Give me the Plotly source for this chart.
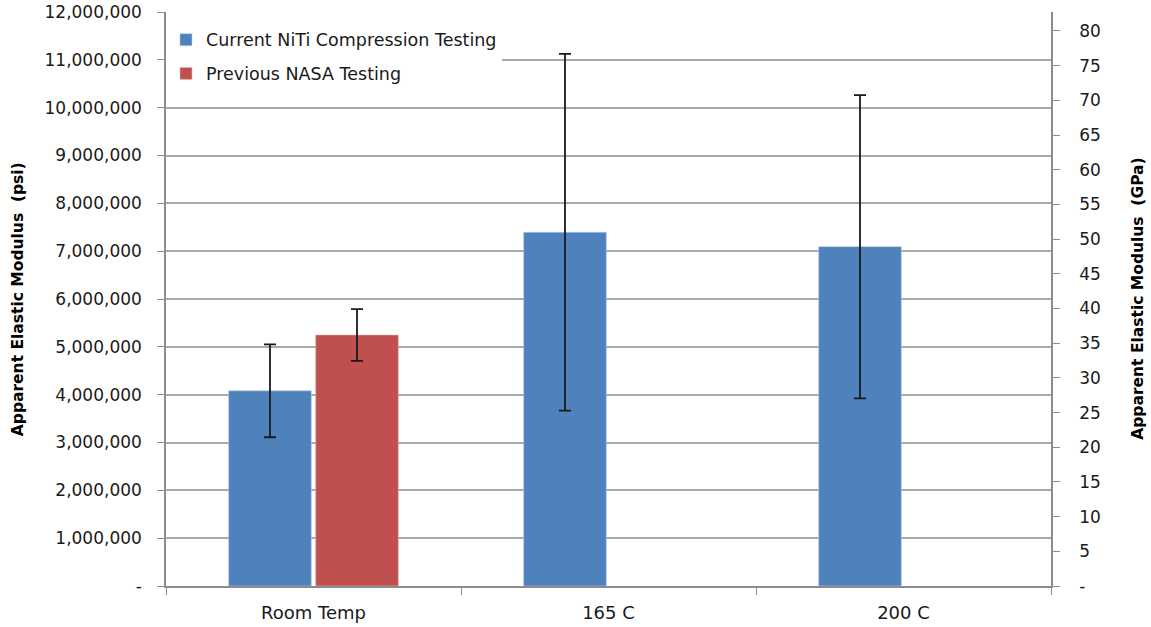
import plotly.graph_objects as go

# Apparent elastic modulus by test temperature (psi), with error bars
categories = ["Room Temp", "165 C", "200 C"]
current_niti = [4080000, 7395000, 7094000]
current_niti_err = [970000, 3730000, 3170000]
previous_nasa = [5248000, None, None]
previous_nasa_err = [540000, None, None]

PSI_TO_GPA = 6.894757e-6
psi_max = 12000000
psi_ticks = list(range(0, psi_max + 1, 1000000))
psi_ticktext = ["-"] + [f"{v:,}" for v in psi_ticks[1:]]
gpa_ticks = list(range(0, 81, 5))
gpa_ticktext = ["-"] + [str(v) for v in gpa_ticks[1:]]

FONT = "DejaVu Sans"
TXT = "#1a1a1a"
AXIS = "#8c8c8c"
GRID = "#a9a9a9"

fig = go.Figure()
fig.add_trace(go.Bar(
    x=categories, y=current_niti, name="Current NiTi Compression Testing",
    marker=dict(color="#4F81BD", line=dict(color="#b9cde5", width=0.6)),
    error_y=dict(type="data", array=current_niti_err, color="#1a1a1a",
                 thickness=1.8, width=6),
    legendgroup="a",
))
fig.add_trace(go.Bar(
    x=categories, y=previous_nasa, name="Previous NASA Testing",
    marker=dict(color="#C0504D", line=dict(color="#e6b9b8", width=0.6)),
    error_y=dict(type="data", array=previous_nasa_err, color="#1a1a1a",
                 thickness=1.8, width=6),
    legendgroup="b",
))
# invisible trace to carry the GPa axis
fig.add_trace(go.Scatter(
    x=categories, y=[None, None, None], yaxis="y2", showlegend=False,
    hoverinfo="skip",
))

fig.update_layout(
    width=1151, height=627,
    margin=dict(l=166, r=100, t=12, b=41, autoexpand=False),
    plot_bgcolor="white", paper_bgcolor="white",
    barmode="group", bargap=0.41, bargroupgap=0.05,
    font=dict(family=FONT, size=16, color=TXT),
    showlegend=True,
    legend=dict(
        x=0.0, y=0.983, xanchor="left", yanchor="top",
        bgcolor="white", borderwidth=0,
        font=dict(family=FONT, size=17.5, color=TXT),
        tracegroupgap=8, itemwidth=30,
    ),
    xaxis=dict(
        type="category", showline=True, linecolor=AXIS, linewidth=1.5,
        ticks="outside", ticklen=7, tickcolor=AXIS, tickson="boundaries",
        showgrid=False, tickfont=dict(size=18, color=TXT),
        ticklabelstandoff=10, automargin=False,
    ),
    yaxis=dict(
        range=[0, psi_max], tickvals=psi_ticks, ticktext=psi_ticktext,
        showline=True, linecolor=AXIS, linewidth=1.5,
        ticks="outside", ticklen=7, tickcolor=AXIS,
        showgrid=True, gridcolor=GRID, gridwidth=1.5, zeroline=False,
        tickfont=dict(size=17, color=TXT), ticklabelstandoff=12,
        automargin=False,
    ),
    yaxis2=dict(
        overlaying="y", side="right",
        range=[0, psi_max * PSI_TO_GPA], tickvals=gpa_ticks, ticktext=gpa_ticktext,
        showline=True, linecolor=AXIS, linewidth=1.5,
        ticks="outside", ticklen=7, tickcolor=AXIS,
        showgrid=False, zeroline=False,
        tickfont=dict(size=17, color=TXT), ticklabelstandoff=16,
        automargin=False,
    ),
    annotations=[
        dict(text="<b>Apparent Elastic Modulus  (psi)</b>", textangle=-90,
             xref="paper", yref="paper", x=-0.167, y=0.5,
             xanchor="center", yanchor="middle", showarrow=False,
             font=dict(family=FONT, size=15.5, color="black")),
        dict(text="<b>Apparent Elastic Modulus  (GPa)</b>", textangle=-90,
             xref="paper", yref="paper", x=1.098, y=0.5,
             xanchor="center", yanchor="middle", showarrow=False,
             font=dict(family=FONT, size=15.5, color="black")),
    ],
)

fig.write_html("out.html")
